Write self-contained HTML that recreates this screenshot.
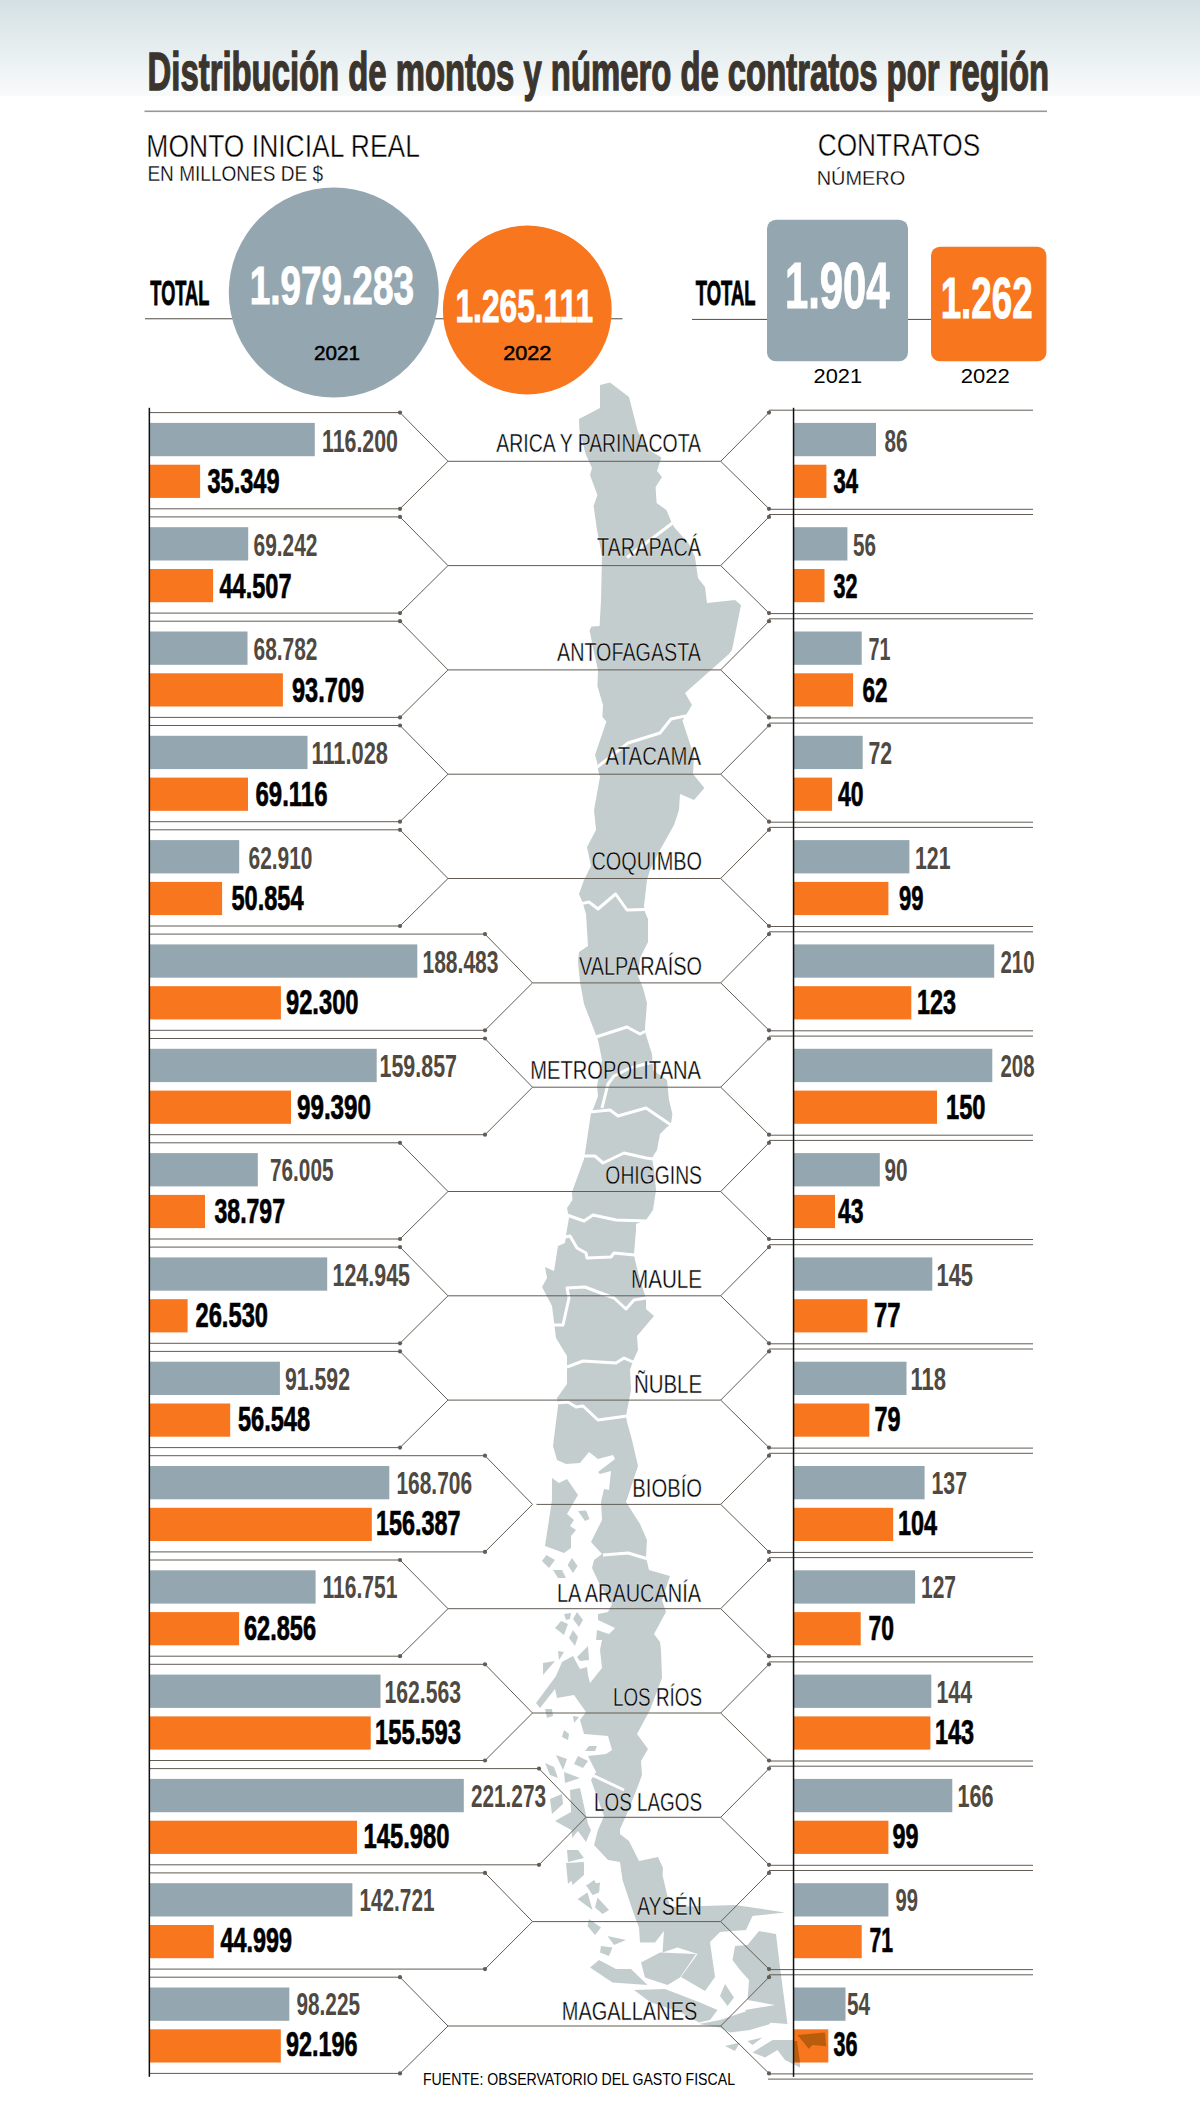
<!DOCTYPE html>
<html lang="es"><head><meta charset="utf-8"><title>Distribución de montos y número de contratos por región</title>
<style>html,body{margin:0;padding:0;background:#fff}body{width:1200px;height:2123px;overflow:hidden}svg{display:block}</style>
</head><body>
<svg width="1200" height="2123" viewBox="0 0 1200 2123" font-family="'Liberation Sans', Arial, sans-serif">
<defs><linearGradient id="tg" x1="0" y1="0" x2="0" y2="1"><stop offset="0" stop-color="#d3e0e4"/><stop offset="1" stop-color="#f9fbfb"/></linearGradient></defs>
<rect x="0" y="0" width="1200" height="2123" fill="#fff"/>
<rect x="0" y="0" width="1200" height="96" fill="url(#tg)"/>
<!--MAP-->
<path d="M600 385L610 382.4L629 397L638 432L649 450L661.4 457.6L657 471L662 477L655.6 487L656.6 503L666.4 510L671.6 522.4L674.4 527.4L689 544L695 557L698 578L705 587L707 603L735 600L741 605L732 650L729 654L685 693L692 705L686 715L682.4 720.4L694 756L693 774L704.4 788L694 800L680 794L679 810L674 825L660 850L650 870L647 880L644 906L645 912L648 919L648 942L640 958L638 976L643 988L647 1003L645 1028L646 1035L652 1054L653 1070L667 1080L669 1100L672.4 1114L671 1124L666 1128L660 1134L657 1150L652 1158L654 1170L656 1190L653 1210L646 1220L636 1224L636 1230L634 1254L635 1260L640 1280L645 1295L646 1298L646 1309L654 1316L637 1336L638 1350L633 1361L630 1370L631 1390L626 1416L627 1422L632 1440L638 1466L626 1502L640 1524L647 1540L646 1557L649 1570L670 1576L662 1600L666 1612L654 1634L660 1642L661 1650L662 1678L650 1710L637 1734L648 1749L641 1761L642 1775L638 1786L626 1816L620 1829L620 1834L629 1841L639 1861L658 1857L663 1868L662.5 1875L670 1907L735 1905L785 1912.5L752.5 1916L746 1930L720 1932L710 1942L715 1977L705 1991L681 1977L697.5 1954L677.5 1947.5L662.5 1952.5L664 1931L655 1942.5L640 1942.5L639 1927.5L632.5 1910L622.5 1880L620 1862L608 1860L594 1845L598 1830L604 1816L596 1794L591 1780L596 1772L588 1756L606 1754L612 1750L608 1736L584 1734L580 1720L586 1712L574 1695L557 1698L555 1689L540 1708L536 1703L556 1676L562 1662L573 1656L580 1669L587 1667L588 1675L590 1683L602 1668L600 1650L602 1640L596 1640L597 1630L609 1634L615 1628L598 1620L598 1614L608 1612L612 1604L600 1585L592 1568L594 1560L602 1554L591 1542L602 1520L601 1502L604 1489L609 1490L611 1471L600 1474L598 1472L615 1459L613 1455L598 1459L589 1452L580 1463L566 1464L557 1460L553 1446L558 1406L557 1398L567 1384L567 1356L556 1338L554 1322L552 1306L542 1287L547 1278L545 1267L554 1271L558 1246L565 1243L566 1235L569 1218L568 1213L567 1208L572.4 1200L572 1192L584 1159L585 1153L591 1113L593.6 1108L598 1096L597 1086L602 1060L598 1040L596 1035L584 1004L580 982L578 962L579 952L588 946L586 914L583.6 906L582 901L579 894L584 880L591 866L587 847L596 830L594 810L600 777L598 770L597 762L595 755L606.4 721.4L602.4 717L603 705L597.4 686L598 670L593 648L589.6 630L591.6 626.6L599.6 626L601 600L602 556L597 530L593.6 506L597.4 495L590 475L592 468L585.6 454L579.4 430L579 419L600 408ZM552 1478L559 1483L567 1479L578 1495L567 1514L574 1520L570 1526L576 1530L571 1536L571 1548L564 1553L545 1546L552 1500ZM578 1511L586 1510.4L589.6 1519L585 1521ZM546.4 1555L555 1560L549 1568L542 1561ZM572 1558L577.6 1566L573 1573L567.6 1565ZM553 1570L562 1570L566 1578L558 1578ZM564 1614L571 1613L570 1619L566 1620ZM577 1612L583 1620L579 1627L573 1619ZM561 1621L568 1624L564 1635L555 1628ZM573 1630L578 1637L575 1646L569 1638ZM558 1651L564 1652L559 1660ZM588 1646L589 1660L580 1661L577 1657ZM543 1663L555 1661L543 1675ZM545 1709L552 1709L553 1716L547 1718ZM564 1730L569 1734L568 1740L562 1737ZM573 1716L579 1717L574 1723ZM589 1746L597 1746L595 1751L585 1751ZM556 1755L567 1759L563 1770ZM578 1756L588 1761L583 1768L574 1764ZM545 1763L554 1767L558 1778L550 1775ZM564 1772L580 1778L565 1783ZM570 1790L580 1788L588 1824L591 1830L586 1842L578 1831L572 1838L571 1810ZM550 1799L562 1794L563 1804L552 1814ZM555 1821L571 1812L573 1831ZM567 1850L578 1850L584 1858L568 1862ZM566 1863L584 1862L583 1872L574 1878L568 1884ZM586 1886L594 1880L600 1890ZM660 1952.5L696 1954L680 1977.5L667.5 1985L645 1977.5L641 1962.5ZM599 1960L616 1969L631 1969L647.5 1985L612.5 1982.5L590 1967.5ZM759 1931L776 1934L780 1967.5L787.5 2024L767.5 2022.5L760 2015L750 2016L745 2010L775 2005L747.5 2000L749 1980L740 1970L732.5 1960L735 1946L747.5 1945ZM634 1990L665 1989L700 2002.5L717.5 2010L710 2020L699 2022.5L680 2012L650 2002ZM725 1984L734 1997.5L727.5 2006L720 1996ZM699 2024L720 2020L735 2015L750 2010L765 2012L770 2024L750 2030L730 2032.5L720 2027.5ZM752.5 2052.5L772.5 2040L792.5 2040L797.5 2035L825 2032.5L826 2046L812.5 2045L809 2049L800 2044L800 2067.5L785 2060L777.5 2050L765 2057.5ZM567.5 1865L584 1864L584 1875L572.5 1885ZM586 1885L600 1882.5L599 1892.5L592.5 1895ZM577.5 1899L587.5 1892.5L592.5 1910ZM597.5 1897.5L609 1910L602.5 1914L595 1907.5ZM589 1919L601 1927.5L595 1935L587.5 1926ZM607.5 1936L626 1940L614 1945ZM601 1946L612.5 1947.5L609 1956L600 1952.5ZM725 2046L740 2042.5L735 2051ZM747.5 2041L762.5 2037.5L752.5 2045Z" fill="#c4cdce"/>
<path d="M672.5 523L627 557.5M687 715.6L671 719L660 733L628 743L596 768M645 909.6L627 910L615.6 894L598 909L589 902L581.6 903.6M646 1031L640 1034L627 1027L596 1037M602 1108L608 1084L614 1076L630 1068L653 1062M671 1125L646 1108L618 1116L610 1110L590 1112M653 1159L646 1158L624 1153L603 1163L595 1156L583 1156M647 1221L616 1220L593 1215L584 1221L567 1215M635 1255L614 1253L611 1257L587 1258L586 1253L577 1248L570 1236L565 1237M646 1298L634 1300L626 1309L614 1298L585 1287L567 1288L569 1298L563 1325L554 1325M633 1362L624 1358L616 1363L583 1361L567 1367M627 1416L598 1420L583 1406L576 1407L568 1402L557 1403M648 1559L628 1553L603 1555M590 1774L624 1790" fill="none" stroke="#fff" stroke-width="3" stroke-linejoin="round"/>

<text x="147.59" y="90.3" font-size="53.5" font-weight="bold" fill="#3b352e" textLength="901.42" lengthAdjust="spacingAndGlyphs" stroke="#3b352e" stroke-width="1.4">Distribución de montos y número de contratos por región</text>
<rect x="144.5" y="110.5" width="902.5" height="1.6" fill="#9a9896"/>
<text x="146.37" y="156.5" font-size="32" fill="#000" textLength="273.64" lengthAdjust="spacingAndGlyphs" stroke="#fff" stroke-width="0.45">MONTO INICIAL REAL</text>
<text x="147.38" y="181.4" font-size="21.8" fill="#000" textLength="175.82" lengthAdjust="spacingAndGlyphs" stroke="#fff" stroke-width="0.3">EN MILLONES DE $</text>
<text x="817.67" y="156.4" font-size="32" fill="#000" textLength="162.54" lengthAdjust="spacingAndGlyphs" stroke="#fff" stroke-width="0.45">CONTRATOS</text>
<text x="816.64" y="184.9" font-size="21" fill="#000" textLength="88.62" lengthAdjust="spacingAndGlyphs" stroke="#fff" stroke-width="0.3">NÚMERO</text>
<rect x="145" y="318.2" width="477.5" height="1.1" fill="#625c55"/>
<rect x="692" y="318.9" width="354" height="1.1" fill="#625c55"/>
<circle cx="333.8" cy="292.5" r="105" fill="#94a7b0"/>
<circle cx="527.3" cy="310" r="84.4" fill="#f7761e"/>
<rect x="767" y="219.7" width="141" height="141.6" rx="9" fill="#94a7b0"/>
<rect x="931" y="246.7" width="115.4" height="114.6" rx="9" fill="#f7761e"/>
<text x="150.36" y="305.1" font-size="35.2" font-weight="bold" fill="#000" textLength="58.91" lengthAdjust="spacingAndGlyphs" stroke="#000" stroke-width="0.9">TOTAL</text>
<text x="695.75" y="305.2" font-size="35.2" font-weight="bold" fill="#000" textLength="59.72" lengthAdjust="spacingAndGlyphs" stroke="#000" stroke-width="0.9">TOTAL</text>
<text x="249.65" y="304.0" font-size="53.6" font-weight="bold" fill="#fff" textLength="164.37" lengthAdjust="spacingAndGlyphs" stroke="#fff" stroke-width="1">1.979.283</text>
<text x="455.46" y="322.3" font-size="46.5" font-weight="bold" fill="#fff" textLength="137.57" lengthAdjust="spacingAndGlyphs" stroke="#fff" stroke-width="1">1.265.111</text>
<text x="784.96" y="308.2" font-size="64.5" font-weight="bold" fill="#fff" textLength="104.64" lengthAdjust="spacingAndGlyphs" stroke="#fff" stroke-width="1">1.904</text>
<text x="940.70" y="318.4" font-size="57" font-weight="bold" fill="#fff" textLength="91.87" lengthAdjust="spacingAndGlyphs" stroke="#fff" stroke-width="1">1.262</text>
<text x="314.00" y="360.0" font-size="20.3" fill="#000" textLength="46.00" lengthAdjust="spacingAndGlyphs" stroke="#000" stroke-width="0.5">2021</text>
<text x="503.21" y="360.0" font-size="20.3" fill="#000" textLength="48.23" lengthAdjust="spacingAndGlyphs" stroke="#000" stroke-width="0.5">2022</text>
<text x="813.56" y="382.8" font-size="20.3" fill="#000" textLength="48.49" lengthAdjust="spacingAndGlyphs">2021</text>
<text x="960.72" y="382.8" font-size="20.3" fill="#000" textLength="49.04" lengthAdjust="spacingAndGlyphs">2022</text>
<rect x="150.0" y="422.9" width="164.8" height="33.3" fill="#94a7b0"/>
<rect x="150.0" y="464.7" width="50.1" height="33.2" fill="#f7761e"/>
<rect x="794.0" y="422.9" width="82.0" height="33.3" fill="#94a7b0"/>
<rect x="794.0" y="464.7" width="32.4" height="33.2" fill="#f7761e"/>
<text x="321.98" y="451.7" font-size="30.5" font-weight="bold" fill="#4f4941" textLength="76.03" lengthAdjust="spacingAndGlyphs">116.200</text>
<text x="207.51" y="493.3" font-size="34.5" font-weight="bold" fill="#000" textLength="72.00" lengthAdjust="spacingAndGlyphs" stroke="#000" stroke-width="0.7">35.349</text>
<text x="884.50" y="451.7" font-size="30.5" font-weight="bold" fill="#4f4941" textLength="23.01" lengthAdjust="spacingAndGlyphs">86</text>
<text x="833.52" y="493.3" font-size="34.5" font-weight="bold" fill="#000" textLength="24.54" lengthAdjust="spacingAndGlyphs" stroke="#000" stroke-width="0.7">34</text>
<text x="496.30" y="451.9" font-size="26" fill="#000" textLength="204.71" lengthAdjust="spacingAndGlyphs" stroke="#e6eaeb" stroke-width="0.4">ARICA Y PARINACOTA</text>
<rect x="150.0" y="527.2" width="98.2" height="33.3" fill="#94a7b0"/>
<rect x="150.0" y="569.0" width="63.1" height="33.2" fill="#f7761e"/>
<rect x="794.0" y="527.2" width="53.4" height="33.3" fill="#94a7b0"/>
<rect x="794.0" y="569.0" width="30.5" height="33.2" fill="#f7761e"/>
<text x="253.50" y="555.9" font-size="30.5" font-weight="bold" fill="#4f4941" textLength="64.01" lengthAdjust="spacingAndGlyphs">69.242</text>
<text x="219.49" y="597.5" font-size="34.5" font-weight="bold" fill="#000" textLength="72.02" lengthAdjust="spacingAndGlyphs" stroke="#000" stroke-width="0.7">44.507</text>
<text x="853.01" y="555.9" font-size="30.5" font-weight="bold" fill="#4f4941" textLength="23.01" lengthAdjust="spacingAndGlyphs">56</text>
<text x="833.50" y="597.5" font-size="34.5" font-weight="bold" fill="#000" textLength="23.99" lengthAdjust="spacingAndGlyphs" stroke="#000" stroke-width="0.7">32</text>
<text x="596.98" y="556.4" font-size="26" fill="#000" textLength="104.04" lengthAdjust="spacingAndGlyphs" stroke="#e6eaeb" stroke-width="0.4">TARAPACÁ</text>
<rect x="150.0" y="631.5" width="97.5" height="33.3" fill="#94a7b0"/>
<rect x="150.0" y="673.3" width="132.9" height="33.2" fill="#f7761e"/>
<rect x="794.0" y="631.5" width="67.7" height="33.3" fill="#94a7b0"/>
<rect x="794.0" y="673.3" width="59.1" height="33.2" fill="#f7761e"/>
<text x="253.50" y="660.2" font-size="30.5" font-weight="bold" fill="#4f4941" textLength="64.01" lengthAdjust="spacingAndGlyphs">68.782</text>
<text x="291.99" y="701.7" font-size="34.5" font-weight="bold" fill="#000" textLength="72.02" lengthAdjust="spacingAndGlyphs" stroke="#000" stroke-width="0.7">93.709</text>
<text x="868.47" y="660.2" font-size="30.5" font-weight="bold" fill="#4f4941" textLength="22.04" lengthAdjust="spacingAndGlyphs">71</text>
<text x="862.52" y="701.7" font-size="34.5" font-weight="bold" fill="#000" textLength="24.98" lengthAdjust="spacingAndGlyphs" stroke="#000" stroke-width="0.7">62</text>
<text x="557.00" y="660.9" font-size="26" fill="#000" textLength="144.01" lengthAdjust="spacingAndGlyphs" stroke="#e6eaeb" stroke-width="0.4">ANTOFAGASTA</text>
<rect x="150.0" y="735.8" width="157.5" height="33.3" fill="#94a7b0"/>
<rect x="150.0" y="777.6" width="98.0" height="33.2" fill="#f7761e"/>
<rect x="794.0" y="735.8" width="68.7" height="33.3" fill="#94a7b0"/>
<rect x="794.0" y="777.6" width="38.1" height="33.2" fill="#f7761e"/>
<text x="311.49" y="764.4" font-size="30.5" font-weight="bold" fill="#4f4941" textLength="76.52" lengthAdjust="spacingAndGlyphs">111.028</text>
<text x="255.50" y="805.9" font-size="34.5" font-weight="bold" fill="#000" textLength="72.00" lengthAdjust="spacingAndGlyphs" stroke="#000" stroke-width="0.7">69.116</text>
<text x="868.43" y="764.4" font-size="30.5" font-weight="bold" fill="#4f4941" textLength="23.62" lengthAdjust="spacingAndGlyphs">72</text>
<text x="838.01" y="805.9" font-size="34.5" font-weight="bold" fill="#000" textLength="25.48" lengthAdjust="spacingAndGlyphs" stroke="#000" stroke-width="0.7">40</text>
<text x="605.57" y="765.4" font-size="26" fill="#000" textLength="95.43" lengthAdjust="spacingAndGlyphs" stroke="#e6eaeb" stroke-width="0.4">ATACAMA</text>
<rect x="150.0" y="840.1" width="89.2" height="33.3" fill="#94a7b0"/>
<rect x="150.0" y="881.9" width="72.1" height="33.2" fill="#f7761e"/>
<rect x="794.0" y="840.1" width="115.4" height="33.3" fill="#94a7b0"/>
<rect x="794.0" y="881.9" width="94.4" height="33.2" fill="#f7761e"/>
<text x="248.49" y="868.6" font-size="30.5" font-weight="bold" fill="#4f4941" textLength="64.02" lengthAdjust="spacingAndGlyphs">62.910</text>
<text x="231.51" y="910.1" font-size="34.5" font-weight="bold" fill="#000" textLength="72.01" lengthAdjust="spacingAndGlyphs" stroke="#000" stroke-width="0.7">50.854</text>
<text x="914.97" y="868.6" font-size="30.5" font-weight="bold" fill="#4f4941" textLength="35.55" lengthAdjust="spacingAndGlyphs">121</text>
<text x="899.00" y="910.1" font-size="34.5" font-weight="bold" fill="#000" textLength="24.48" lengthAdjust="spacingAndGlyphs" stroke="#000" stroke-width="0.7">99</text>
<text x="591.38" y="869.9" font-size="26" fill="#000" textLength="110.64" lengthAdjust="spacingAndGlyphs" stroke="#e6eaeb" stroke-width="0.4">COQUIMBO</text>
<rect x="150.0" y="944.4" width="267.3" height="33.3" fill="#94a7b0"/>
<rect x="150.0" y="986.2" width="130.9" height="33.2" fill="#f7761e"/>
<rect x="794.0" y="944.4" width="200.2" height="33.3" fill="#94a7b0"/>
<rect x="794.0" y="986.2" width="117.3" height="33.2" fill="#f7761e"/>
<text x="422.48" y="972.8" font-size="30.5" font-weight="bold" fill="#4f4941" textLength="76.03" lengthAdjust="spacingAndGlyphs">188.483</text>
<text x="285.99" y="1014.3" font-size="34.5" font-weight="bold" fill="#000" textLength="72.53" lengthAdjust="spacingAndGlyphs" stroke="#000" stroke-width="0.7">92.300</text>
<text x="1000.50" y="972.8" font-size="30.5" font-weight="bold" fill="#4f4941" textLength="34.00" lengthAdjust="spacingAndGlyphs">210</text>
<text x="917.00" y="1014.3" font-size="34.5" font-weight="bold" fill="#000" textLength="39.02" lengthAdjust="spacingAndGlyphs" stroke="#000" stroke-width="0.7">123</text>
<text x="579.00" y="974.5" font-size="26" fill="#000" textLength="123.01" lengthAdjust="spacingAndGlyphs" stroke="#e6eaeb" stroke-width="0.4">VALPARAÍSO</text>
<rect x="150.0" y="1048.8" width="226.7" height="33.3" fill="#94a7b0"/>
<rect x="150.0" y="1090.6" width="141.0" height="33.2" fill="#f7761e"/>
<rect x="794.0" y="1048.8" width="198.3" height="33.3" fill="#94a7b0"/>
<rect x="794.0" y="1090.6" width="143.0" height="33.2" fill="#f7761e"/>
<text x="379.48" y="1077.1" font-size="30.5" font-weight="bold" fill="#4f4941" textLength="77.53" lengthAdjust="spacingAndGlyphs">159.857</text>
<text x="296.99" y="1118.5" font-size="34.5" font-weight="bold" fill="#000" textLength="74.01" lengthAdjust="spacingAndGlyphs" stroke="#000" stroke-width="0.7">99.390</text>
<text x="1000.50" y="1077.1" font-size="30.5" font-weight="bold" fill="#4f4941" textLength="34.00" lengthAdjust="spacingAndGlyphs">208</text>
<text x="945.99" y="1118.5" font-size="34.5" font-weight="bold" fill="#000" textLength="39.52" lengthAdjust="spacingAndGlyphs" stroke="#000" stroke-width="0.7">150</text>
<text x="530.37" y="1079.0" font-size="26" fill="#000" textLength="170.64" lengthAdjust="spacingAndGlyphs" stroke="#e6eaeb" stroke-width="0.4">METROPOLITANA</text>
<rect x="150.0" y="1153.1" width="107.8" height="33.3" fill="#94a7b0"/>
<rect x="150.0" y="1194.9" width="55.0" height="33.2" fill="#f7761e"/>
<rect x="794.0" y="1153.1" width="85.8" height="33.3" fill="#94a7b0"/>
<rect x="794.0" y="1194.9" width="41.0" height="33.2" fill="#f7761e"/>
<text x="269.97" y="1181.3" font-size="30.5" font-weight="bold" fill="#4f4941" textLength="63.54" lengthAdjust="spacingAndGlyphs">76.005</text>
<text x="214.50" y="1222.7" font-size="34.5" font-weight="bold" fill="#000" textLength="70.49" lengthAdjust="spacingAndGlyphs" stroke="#000" stroke-width="0.7">38.797</text>
<text x="884.50" y="1181.3" font-size="30.5" font-weight="bold" fill="#4f4941" textLength="23.02" lengthAdjust="spacingAndGlyphs">90</text>
<text x="837.98" y="1222.7" font-size="34.5" font-weight="bold" fill="#000" textLength="25.52" lengthAdjust="spacingAndGlyphs" stroke="#000" stroke-width="0.7">43</text>
<text x="605.37" y="1183.5" font-size="26" fill="#000" textLength="96.65" lengthAdjust="spacingAndGlyphs" stroke="#e6eaeb" stroke-width="0.4">OHIGGINS</text>
<rect x="150.0" y="1257.4" width="177.2" height="33.3" fill="#94a7b0"/>
<rect x="150.0" y="1299.2" width="37.6" height="33.2" fill="#f7761e"/>
<rect x="794.0" y="1257.4" width="138.3" height="33.3" fill="#94a7b0"/>
<rect x="794.0" y="1299.2" width="73.4" height="33.2" fill="#f7761e"/>
<text x="332.49" y="1285.5" font-size="30.5" font-weight="bold" fill="#4f4941" textLength="77.52" lengthAdjust="spacingAndGlyphs">124.945</text>
<text x="195.50" y="1326.9" font-size="34.5" font-weight="bold" fill="#000" textLength="72.50" lengthAdjust="spacingAndGlyphs" stroke="#000" stroke-width="0.7">26.530</text>
<text x="936.42" y="1285.5" font-size="30.5" font-weight="bold" fill="#4f4941" textLength="36.65" lengthAdjust="spacingAndGlyphs">145</text>
<text x="874.00" y="1326.9" font-size="34.5" font-weight="bold" fill="#000" textLength="26.50" lengthAdjust="spacingAndGlyphs" stroke="#000" stroke-width="0.7">77</text>
<text x="630.96" y="1288.0" font-size="26" fill="#000" textLength="71.07" lengthAdjust="spacingAndGlyphs" stroke="#e6eaeb" stroke-width="0.4">MAULE</text>
<rect x="150.0" y="1361.7" width="129.9" height="33.3" fill="#94a7b0"/>
<rect x="150.0" y="1403.5" width="80.2" height="33.2" fill="#f7761e"/>
<rect x="794.0" y="1361.7" width="112.5" height="33.3" fill="#94a7b0"/>
<rect x="794.0" y="1403.5" width="75.3" height="33.2" fill="#f7761e"/>
<text x="284.98" y="1389.8" font-size="30.5" font-weight="bold" fill="#4f4941" textLength="65.03" lengthAdjust="spacingAndGlyphs">91.592</text>
<text x="238.00" y="1431.1" font-size="34.5" font-weight="bold" fill="#000" textLength="72.00" lengthAdjust="spacingAndGlyphs" stroke="#000" stroke-width="0.7">56.548</text>
<text x="910.46" y="1389.8" font-size="30.5" font-weight="bold" fill="#4f4941" textLength="35.58" lengthAdjust="spacingAndGlyphs">118</text>
<text x="874.48" y="1431.1" font-size="34.5" font-weight="bold" fill="#000" textLength="26.02" lengthAdjust="spacingAndGlyphs" stroke="#000" stroke-width="0.7">79</text>
<text x="633.90" y="1392.5" font-size="26" fill="#000" textLength="68.15" lengthAdjust="spacingAndGlyphs" stroke="#e6eaeb" stroke-width="0.4">ÑUBLE</text>
<rect x="150.0" y="1466.0" width="239.3" height="33.3" fill="#94a7b0"/>
<rect x="150.0" y="1507.8" width="221.8" height="33.2" fill="#f7761e"/>
<rect x="794.0" y="1466.0" width="130.6" height="33.3" fill="#94a7b0"/>
<rect x="794.0" y="1507.8" width="99.2" height="33.2" fill="#f7761e"/>
<text x="396.47" y="1494.0" font-size="30.5" font-weight="bold" fill="#4f4941" textLength="75.54" lengthAdjust="spacingAndGlyphs">168.706</text>
<text x="376.00" y="1535.3" font-size="34.5" font-weight="bold" fill="#000" textLength="84.51" lengthAdjust="spacingAndGlyphs" stroke="#000" stroke-width="0.7">156.387</text>
<text x="931.44" y="1494.0" font-size="30.5" font-weight="bold" fill="#4f4941" textLength="35.58" lengthAdjust="spacingAndGlyphs">137</text>
<text x="897.99" y="1535.3" font-size="34.5" font-weight="bold" fill="#000" textLength="39.01" lengthAdjust="spacingAndGlyphs" stroke="#000" stroke-width="0.7">104</text>
<text x="632.31" y="1497.0" font-size="26" fill="#000" textLength="69.74" lengthAdjust="spacingAndGlyphs" stroke="#e6eaeb" stroke-width="0.4">BIOBÍO</text>
<rect x="150.0" y="1570.3" width="165.6" height="33.3" fill="#94a7b0"/>
<rect x="150.0" y="1612.1" width="89.1" height="33.2" fill="#f7761e"/>
<rect x="794.0" y="1570.3" width="121.1" height="33.3" fill="#94a7b0"/>
<rect x="794.0" y="1612.1" width="66.7" height="33.2" fill="#f7761e"/>
<text x="322.50" y="1598.2" font-size="30.5" font-weight="bold" fill="#4f4941" textLength="75.01" lengthAdjust="spacingAndGlyphs">116.751</text>
<text x="243.99" y="1639.5" font-size="34.5" font-weight="bold" fill="#000" textLength="72.02" lengthAdjust="spacingAndGlyphs" stroke="#000" stroke-width="0.7">62.856</text>
<text x="920.96" y="1598.2" font-size="30.5" font-weight="bold" fill="#4f4941" textLength="35.07" lengthAdjust="spacingAndGlyphs">127</text>
<text x="868.50" y="1639.5" font-size="34.5" font-weight="bold" fill="#000" textLength="25.50" lengthAdjust="spacingAndGlyphs" stroke="#000" stroke-width="0.7">70</text>
<text x="556.97" y="1601.5" font-size="26" fill="#000" textLength="144.03" lengthAdjust="spacingAndGlyphs" stroke="#e6eaeb" stroke-width="0.4">LA ARAUCANÍA</text>
<rect x="150.0" y="1674.6" width="230.5" height="33.3" fill="#94a7b0"/>
<rect x="150.0" y="1716.4" width="220.7" height="33.2" fill="#f7761e"/>
<rect x="794.0" y="1674.6" width="137.3" height="33.3" fill="#94a7b0"/>
<rect x="794.0" y="1716.4" width="136.4" height="33.2" fill="#f7761e"/>
<text x="384.48" y="1702.5" font-size="30.5" font-weight="bold" fill="#4f4941" textLength="76.53" lengthAdjust="spacingAndGlyphs">162.563</text>
<text x="375.01" y="1743.7" font-size="34.5" font-weight="bold" fill="#000" textLength="86.01" lengthAdjust="spacingAndGlyphs" stroke="#000" stroke-width="0.7">155.593</text>
<text x="936.47" y="1702.5" font-size="30.5" font-weight="bold" fill="#4f4941" textLength="35.54" lengthAdjust="spacingAndGlyphs">144</text>
<text x="934.99" y="1743.7" font-size="34.5" font-weight="bold" fill="#000" textLength="39.02" lengthAdjust="spacingAndGlyphs" stroke="#000" stroke-width="0.7">143</text>
<text x="612.96" y="1706.0" font-size="26" fill="#000" textLength="89.06" lengthAdjust="spacingAndGlyphs" stroke="#e6eaeb" stroke-width="0.4">LOS RÍOS</text>
<rect x="150.0" y="1778.9" width="313.8" height="33.3" fill="#94a7b0"/>
<rect x="150.0" y="1820.7" width="207.0" height="33.2" fill="#f7761e"/>
<rect x="794.0" y="1778.9" width="158.3" height="33.3" fill="#94a7b0"/>
<rect x="794.0" y="1820.7" width="94.4" height="33.2" fill="#f7761e"/>
<text x="470.99" y="1806.7" font-size="30.5" font-weight="bold" fill="#4f4941" textLength="75.01" lengthAdjust="spacingAndGlyphs">221.273</text>
<text x="363.48" y="1847.9" font-size="34.5" font-weight="bold" fill="#000" textLength="86.03" lengthAdjust="spacingAndGlyphs" stroke="#000" stroke-width="0.7">145.980</text>
<text x="957.42" y="1806.7" font-size="30.5" font-weight="bold" fill="#4f4941" textLength="36.15" lengthAdjust="spacingAndGlyphs">166</text>
<text x="892.50" y="1847.9" font-size="34.5" font-weight="bold" fill="#000" textLength="26.02" lengthAdjust="spacingAndGlyphs" stroke="#000" stroke-width="0.7">99</text>
<text x="593.97" y="1810.5" font-size="26" fill="#000" textLength="108.05" lengthAdjust="spacingAndGlyphs" stroke="#e6eaeb" stroke-width="0.4">LOS LAGOS</text>
<rect x="150.0" y="1883.2" width="202.4" height="33.3" fill="#94a7b0"/>
<rect x="150.0" y="1925.0" width="63.8" height="33.2" fill="#f7761e"/>
<rect x="794.0" y="1883.2" width="94.4" height="33.3" fill="#94a7b0"/>
<rect x="794.0" y="1925.0" width="67.7" height="33.2" fill="#f7761e"/>
<text x="359.48" y="1910.9" font-size="30.5" font-weight="bold" fill="#4f4941" textLength="75.03" lengthAdjust="spacingAndGlyphs">142.721</text>
<text x="220.49" y="1952.1" font-size="34.5" font-weight="bold" fill="#000" textLength="71.49" lengthAdjust="spacingAndGlyphs" stroke="#000" stroke-width="0.7">44.999</text>
<text x="895.50" y="1910.9" font-size="30.5" font-weight="bold" fill="#4f4941" textLength="22.51" lengthAdjust="spacingAndGlyphs">99</text>
<text x="869.50" y="1952.1" font-size="34.5" font-weight="bold" fill="#000" textLength="23.52" lengthAdjust="spacingAndGlyphs" stroke="#000" stroke-width="0.7">71</text>
<text x="637.00" y="1915.0" font-size="26" fill="#000" textLength="65.03" lengthAdjust="spacingAndGlyphs" stroke="#e6eaeb" stroke-width="0.4">AYSÉN</text>
<rect x="150.0" y="1987.5" width="139.3" height="33.3" fill="#94a7b0"/>
<rect x="150.0" y="2029.3" width="130.8" height="33.2" fill="#f7761e"/>
<rect x="794.0" y="1987.5" width="51.5" height="33.3" fill="#94a7b0"/>
<rect x="794.0" y="2029.3" width="34.3" height="33.2" fill="#f7761e"/>
<text x="296.49" y="2015.2" font-size="30.5" font-weight="bold" fill="#4f4941" textLength="63.51" lengthAdjust="spacingAndGlyphs">98.225</text>
<text x="286.00" y="2056.3" font-size="34.5" font-weight="bold" fill="#000" textLength="71.50" lengthAdjust="spacingAndGlyphs" stroke="#000" stroke-width="0.7">92.196</text>
<text x="846.95" y="2015.2" font-size="30.5" font-weight="bold" fill="#4f4941" textLength="23.11" lengthAdjust="spacingAndGlyphs">54</text>
<text x="833.50" y="2056.3" font-size="34.5" font-weight="bold" fill="#000" textLength="23.99" lengthAdjust="spacingAndGlyphs" stroke="#000" stroke-width="0.7">36</text>
<text x="561.76" y="2019.6" font-size="26" fill="#000" textLength="135.55" lengthAdjust="spacingAndGlyphs" stroke="#e6eaeb" stroke-width="0.4">MAGALLANES</text>
<path d="M797.5 2035L825 2032.5L826.2 2046.2L812.5 2045L808.8 2048.8ZM794 2041L797 2041L800 2062.3L794 2062.3Z" fill="#b95d0c"/>
<path d="M149.0 412.6L400.0 412.6M149.0 508.8L400.0 508.8M400.0 412.6L448.0 461.3M400.0 508.8L448.0 461.3M448.0 461.3L720.7 461.3M720.7 461.3L769.0 412.6M720.7 461.3L769.0 508.8M769.0 410.2L1033.0 410.2M769.0 509.3L1033.0 509.3M149.0 516.9L400.0 516.9M149.0 613.1L400.0 613.1M400.0 516.9L448.0 565.6M400.0 613.1L448.0 565.6M448.0 565.6L720.7 565.6M720.7 565.6L769.0 516.9M720.7 565.6L769.0 613.1M769.0 514.5L1033.0 514.5M769.0 613.6L1033.0 613.6M149.0 621.2L400.0 621.2M149.0 717.4L400.0 717.4M400.0 621.2L448.0 669.9M400.0 717.4L448.0 669.9M448.0 669.9L720.7 669.9M720.7 669.9L769.0 621.2M720.7 669.9L769.0 717.4M769.0 618.8L1033.0 618.8M769.0 717.9L1033.0 717.9M149.0 725.5L400.0 725.5M149.0 821.7L400.0 821.7M400.0 725.5L448.0 774.2M400.0 821.7L448.0 774.2M448.0 774.2L720.7 774.2M720.7 774.2L769.0 725.5M720.7 774.2L769.0 821.7M769.0 723.1L1033.0 723.1M769.0 822.2L1033.0 822.2M149.0 829.8L400.0 829.8M149.0 926.0L400.0 926.0M400.0 829.8L448.0 878.5M400.0 926.0L448.0 878.5M448.0 878.5L720.7 878.5M720.7 878.5L769.0 829.8M720.7 878.5L769.0 926.0M769.0 827.4L1033.0 827.4M769.0 926.5L1033.0 926.5M149.0 934.1L485.0 934.1M149.0 1030.3L485.0 1030.3M485.0 934.1L532.5 982.9M485.0 1030.3L532.5 982.9M532.5 982.9L720.7 982.9M720.7 982.9L769.0 934.1M720.7 982.9L769.0 1030.3M769.0 931.8L1033.0 931.8M769.0 1030.8L1033.0 1030.8M149.0 1038.5L485.0 1038.5M149.0 1134.7L485.0 1134.7M485.0 1038.5L532.5 1087.2M485.0 1134.7L532.5 1087.2M532.5 1087.2L720.7 1087.2M720.7 1087.2L769.0 1038.5M720.7 1087.2L769.0 1134.7M769.0 1036.1L1033.0 1036.1M769.0 1135.2L1033.0 1135.2M149.0 1142.8L400.0 1142.8M149.0 1239.0L400.0 1239.0M400.0 1142.8L448.0 1191.5M400.0 1239.0L448.0 1191.5M448.0 1191.5L720.7 1191.5M720.7 1191.5L769.0 1142.8M720.7 1191.5L769.0 1239.0M769.0 1140.4L1033.0 1140.4M769.0 1239.5L1033.0 1239.5M149.0 1247.1L400.0 1247.1M149.0 1343.3L400.0 1343.3M400.0 1247.1L448.0 1295.8M400.0 1343.3L448.0 1295.8M448.0 1295.8L720.7 1295.8M720.7 1295.8L769.0 1247.1M720.7 1295.8L769.0 1343.3M769.0 1244.7L1033.0 1244.7M769.0 1343.8L1033.0 1343.8M149.0 1351.4L400.0 1351.4M149.0 1447.6L400.0 1447.6M400.0 1351.4L448.0 1400.1M400.0 1447.6L448.0 1400.1M448.0 1400.1L720.7 1400.1M720.7 1400.1L769.0 1351.4M720.7 1400.1L769.0 1447.6M769.0 1349.0L1033.0 1349.0M769.0 1448.1L1033.0 1448.1M149.0 1455.7L485.0 1455.7M149.0 1551.9L485.0 1551.9M485.0 1455.7L532.5 1504.4M485.0 1551.9L532.5 1504.4M536.5 1504.4L720.7 1504.4M720.7 1504.4L769.0 1455.7M720.7 1504.4L769.0 1551.9M769.0 1453.3L1033.0 1453.3M769.0 1552.4L1033.0 1552.4M149.0 1560.0L400.0 1560.0M149.0 1656.2L400.0 1656.2M400.0 1560.0L448.0 1608.7M400.0 1656.2L448.0 1608.7M448.0 1608.7L720.7 1608.7M720.7 1608.7L769.0 1560.0M720.7 1608.7L769.0 1656.2M769.0 1557.6L1033.0 1557.6M769.0 1656.7L1033.0 1656.7M149.0 1664.3L485.0 1664.3M149.0 1760.5L485.0 1760.5M485.0 1664.3L532.5 1713.0M485.0 1760.5L532.5 1713.0M532.5 1713.0L720.7 1713.0M720.7 1713.0L769.0 1664.3M720.7 1713.0L769.0 1760.5M769.0 1661.9L1033.0 1661.9M769.0 1761.0L1033.0 1761.0M149.0 1768.6L539.0 1768.6M149.0 1864.8L539.0 1864.8M539.0 1768.6L586.0 1817.3M539.0 1864.8L586.0 1817.3M586.0 1817.3L720.7 1817.3M720.7 1817.3L769.0 1768.6M720.7 1817.3L769.0 1864.8M769.0 1766.2L1033.0 1766.2M769.0 1865.3L1033.0 1865.3M149.0 1872.9L485.0 1872.9M149.0 1969.1L485.0 1969.1M485.0 1872.9L532.5 1921.6M485.0 1969.1L532.5 1921.6M532.5 1921.6L720.7 1921.6M720.7 1921.6L769.0 1872.9M720.7 1921.6L769.0 1969.1M769.0 1870.5L1033.0 1870.5M769.0 1969.6L1033.0 1969.6M149.0 1977.2L400.0 1977.2M149.0 2073.4L400.0 2073.4M400.0 1977.2L448.0 2026.0M400.0 2073.4L448.0 2026.0M448.0 2026.0L720.7 2026.0M720.7 2026.0L769.0 1977.2M720.7 2026.0L769.0 2073.4M769.0 1974.8L1033.0 1974.8M769.0 2073.9L1033.0 2073.9M768.0 2079.1L1033.0 2079.1" stroke="#625c55" stroke-width="1" fill="none"/>
<circle cx="400" cy="412.6" r="2.1" fill="#625c55"/>
<circle cx="400" cy="508.8" r="2.1" fill="#625c55"/>
<circle cx="769" cy="412.6" r="2.1" fill="#625c55"/>
<circle cx="769" cy="508.8" r="2.1" fill="#625c55"/>
<circle cx="400" cy="516.9" r="2.1" fill="#625c55"/>
<circle cx="400" cy="613.1" r="2.1" fill="#625c55"/>
<circle cx="769" cy="516.9" r="2.1" fill="#625c55"/>
<circle cx="769" cy="613.1" r="2.1" fill="#625c55"/>
<circle cx="400" cy="621.2" r="2.1" fill="#625c55"/>
<circle cx="400" cy="717.4" r="2.1" fill="#625c55"/>
<circle cx="769" cy="621.2" r="2.1" fill="#625c55"/>
<circle cx="769" cy="717.4" r="2.1" fill="#625c55"/>
<circle cx="400" cy="725.5" r="2.1" fill="#625c55"/>
<circle cx="400" cy="821.7" r="2.1" fill="#625c55"/>
<circle cx="769" cy="725.5" r="2.1" fill="#625c55"/>
<circle cx="769" cy="821.7" r="2.1" fill="#625c55"/>
<circle cx="400" cy="829.8" r="2.1" fill="#625c55"/>
<circle cx="400" cy="926.0" r="2.1" fill="#625c55"/>
<circle cx="769" cy="829.8" r="2.1" fill="#625c55"/>
<circle cx="769" cy="926.0" r="2.1" fill="#625c55"/>
<circle cx="485" cy="934.1" r="2.1" fill="#625c55"/>
<circle cx="485" cy="1030.3" r="2.1" fill="#625c55"/>
<circle cx="769" cy="934.1" r="2.1" fill="#625c55"/>
<circle cx="769" cy="1030.3" r="2.1" fill="#625c55"/>
<circle cx="485" cy="1038.5" r="2.1" fill="#625c55"/>
<circle cx="485" cy="1134.7" r="2.1" fill="#625c55"/>
<circle cx="769" cy="1038.5" r="2.1" fill="#625c55"/>
<circle cx="769" cy="1134.7" r="2.1" fill="#625c55"/>
<circle cx="400" cy="1142.8" r="2.1" fill="#625c55"/>
<circle cx="400" cy="1239.0" r="2.1" fill="#625c55"/>
<circle cx="769" cy="1142.8" r="2.1" fill="#625c55"/>
<circle cx="769" cy="1239.0" r="2.1" fill="#625c55"/>
<circle cx="400" cy="1247.1" r="2.1" fill="#625c55"/>
<circle cx="400" cy="1343.3" r="2.1" fill="#625c55"/>
<circle cx="769" cy="1247.1" r="2.1" fill="#625c55"/>
<circle cx="769" cy="1343.3" r="2.1" fill="#625c55"/>
<circle cx="400" cy="1351.4" r="2.1" fill="#625c55"/>
<circle cx="400" cy="1447.6" r="2.1" fill="#625c55"/>
<circle cx="769" cy="1351.4" r="2.1" fill="#625c55"/>
<circle cx="769" cy="1447.6" r="2.1" fill="#625c55"/>
<circle cx="485" cy="1455.7" r="2.1" fill="#625c55"/>
<circle cx="485" cy="1551.9" r="2.1" fill="#625c55"/>
<circle cx="769" cy="1455.7" r="2.1" fill="#625c55"/>
<circle cx="769" cy="1551.9" r="2.1" fill="#625c55"/>
<circle cx="400" cy="1560.0" r="2.1" fill="#625c55"/>
<circle cx="400" cy="1656.2" r="2.1" fill="#625c55"/>
<circle cx="769" cy="1560.0" r="2.1" fill="#625c55"/>
<circle cx="769" cy="1656.2" r="2.1" fill="#625c55"/>
<circle cx="485" cy="1664.3" r="2.1" fill="#625c55"/>
<circle cx="485" cy="1760.5" r="2.1" fill="#625c55"/>
<circle cx="769" cy="1664.3" r="2.1" fill="#625c55"/>
<circle cx="769" cy="1760.5" r="2.1" fill="#625c55"/>
<circle cx="539" cy="1768.6" r="2.1" fill="#625c55"/>
<circle cx="539" cy="1864.8" r="2.1" fill="#625c55"/>
<circle cx="769" cy="1768.6" r="2.1" fill="#625c55"/>
<circle cx="769" cy="1864.8" r="2.1" fill="#625c55"/>
<circle cx="485" cy="1872.9" r="2.1" fill="#625c55"/>
<circle cx="485" cy="1969.1" r="2.1" fill="#625c55"/>
<circle cx="769" cy="1872.9" r="2.1" fill="#625c55"/>
<circle cx="769" cy="1969.1" r="2.1" fill="#625c55"/>
<circle cx="400" cy="1977.2" r="2.1" fill="#625c55"/>
<circle cx="400" cy="2073.4" r="2.1" fill="#625c55"/>
<circle cx="769" cy="1977.2" r="2.1" fill="#625c55"/>
<circle cx="769" cy="2073.4" r="2.1" fill="#625c55"/>
<rect x="148.6" y="407.8" width="1.5" height="1669" fill="#111"/>
<rect x="792.8" y="407.8" width="1.5" height="1669" fill="#111"/>
<text x="423.00" y="2085.0" font-size="17" fill="#000" textLength="312.00" lengthAdjust="spacingAndGlyphs">FUENTE: OBSERVATORIO DEL GASTO FISCAL</text>
</svg>
</body></html>
